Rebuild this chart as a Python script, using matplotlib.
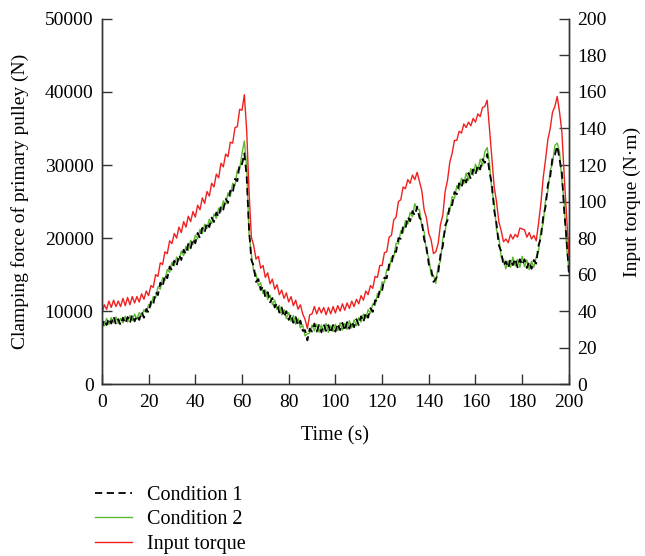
import matplotlib
matplotlib.use("Agg")
import matplotlib.pyplot as plt
import numpy as np

plt.rcParams['font.family'] = ['Liberation Serif', 'DejaVu Serif']
plt.rcParams['font.size'] = 14

# time (s), one sample per second
time = np.arange(0, 201)

# clamping force of primary pulley (N), condition 1
cond1 = [7700, 8800, 8100, 9000, 8300, 9300, 8200, 8900, 8100, 9100,
         8300, 9200, 8400, 9500, 8600, 9400, 8800, 9900, 9100, 10300,
         9800, 11300, 10900, 12600, 12200, 13900, 13300, 15000, 14500, 16100,
         15600, 16900, 16200, 17700, 17000, 18400, 17800, 19200, 18600, 19900,
         19300, 20700, 20000, 21400, 20800, 22100, 21500, 22800, 22200, 23500,
         22900, 24400, 23900, 25400, 24800, 26500, 26100, 28100, 27800, 30200,
         30100, 31600, 28400, 21300, 17000, 16200, 14000, 14400, 12900, 13400,
         11900, 12600, 11200, 11800, 10500, 11100, 9800, 10500, 9200, 10000,
         8800, 9600, 8400, 9200, 8000, 8700, 7300, 7400, 6000, 7600,
         7200, 8300, 7200, 8100, 7100, 8200, 7300, 8100, 7000, 8100,
         7200, 8300, 7400, 8400, 7300, 8500, 7600, 8600, 7800, 8900,
         8100, 9300, 8500, 9800, 9100, 10400, 9900, 11500, 11300, 13000,
         12800, 14600, 14500, 16400, 16300, 18200, 18100, 20000, 19900, 21600,
         21300, 22900, 22300, 23700, 23100, 24300, 22800, 22400, 19800, 18800,
         16400, 15800, 14000, 14400, 15100, 17700, 18900, 21700, 22400, 24600,
         24500, 26300, 26000, 27500, 26900, 28300, 27600, 28900, 28100, 29400,
         28700, 30000, 29400, 30800, 30300, 31500, 29000, 27400, 23800, 22000,
         19000, 18200, 16200, 16800, 15900, 17100, 16300, 17200, 16000, 17100,
         16300, 17100, 15900, 16800, 15800, 17000, 16500, 19000, 20000, 22900,
         24300, 27300, 28400, 31100, 31400, 32600, 30800, 28900, 23600, 19900,
         15200]

# clamping force of primary pulley (N), condition 2
cond2 = [8300, 8000, 9000, 8200, 9100, 8400, 9200, 8300, 9000, 8400,
         9300, 8500, 9400, 8700, 9600, 8900, 9800, 9300, 10200, 9800,
         10900, 10700, 12000, 11800, 13300, 13000, 14600, 14200, 15700, 15300,
         16700, 16200, 17400, 16900, 18200, 17600, 18900, 18300, 19700, 19100,
         20400, 19900, 21200, 20600, 21900, 21300, 22600, 22000, 23300, 22700,
         24100, 23600, 25100, 24600, 26200, 25700, 27500, 27200, 29300, 29400,
         31600, 33300, 29800, 20600, 17800, 15400, 15100, 13500, 13900, 12400,
         12900, 11600, 12200, 10900, 11500, 10200, 10800, 9500, 10200, 9000,
         9800, 8600, 9400, 8200, 9000, 7700, 8100, 6600, 6900, 7000,
         8100, 7300, 8200, 7100, 8100, 7200, 8300, 7100, 8000, 7200,
         8200, 7300, 8400, 7400, 8300, 7500, 8700, 7700, 8800, 8000,
         9100, 8500, 9600, 9000, 10200, 9700, 11000, 10800, 12400, 12300,
         14000, 13900, 15700, 15600, 17400, 17400, 19300, 19200, 21000, 20700,
         22400, 21900, 23500, 22900, 24700, 23900, 23900, 21600, 20900, 18100,
         17300, 15000, 14900, 13800, 16200, 16800, 20000, 20800, 23500, 23700,
         25700, 25400, 27200, 26600, 28200, 27400, 28900, 27900, 29500, 28600,
         30100, 29200, 30800, 29900, 31800, 32400, 30200, 26500, 24900, 21100,
         20100, 17400, 17100, 15800, 16900, 16000, 17400, 16200, 17100, 16000,
         17500, 16100, 17000, 15700, 16800, 16000, 17400, 18200, 21000, 22000,
         25200, 26400, 29300, 30200, 32700, 33000, 31800, 27900, 24800, 18800,
         15800]

# input torque (N*m)
torque = [38.5, 43.5, 41, 45.5, 42, 46, 42.5, 45.5, 42.5, 47,
          43, 47.5, 43.5, 48, 44.5, 48, 45, 49.5, 46.5, 51,
          48.5, 54, 53, 60, 59, 66.5, 65.5, 72.5, 71.5, 78.5,
          77, 82.5, 80, 86, 83, 89, 86, 92, 89, 94.5,
          91.5, 98, 95.5, 102, 99, 105.5, 103, 110, 108, 115,
          113, 121, 119, 126, 124.5, 132.5, 132, 140.5, 141, 150.5,
          150, 158.5, 139, 106, 80.5, 76, 68.5, 70, 63.5, 65,
          58.5, 61, 55, 57.5, 52, 54.5, 49, 51.5, 47, 50,
          45, 48, 43, 46, 41, 43.5, 38.5, 35.5, 30.5, 38,
          38.5, 42.5, 38.5, 42, 39, 42, 38, 42, 38.5, 42.5,
          39, 43, 40, 44, 40.5, 44.5, 41.5, 45.5, 42.5, 46.5,
          44, 48.5, 46, 51, 49, 54, 52.5, 59, 58.5, 65,
          65, 72, 72.5, 80.5, 81.5, 90, 91.5, 100, 101, 108,
          107, 112, 110, 114.5, 112, 116, 111, 106, 95.5, 91,
          82.5, 79, 71.5, 72.5, 77, 87.5, 92.5, 105.5, 111.5, 121.5,
          126.5, 133.5, 133.5, 138.5, 137.5, 142.5, 140.5, 143.5, 141.5, 145.5,
          143.5, 148, 146.5, 151.5, 152, 155.5, 140, 124, 108, 100,
          89, 84, 78, 79.5, 77.5, 82, 79.5, 82, 80.5, 85.5,
          85, 84.5, 80.5, 83, 79.5, 81.5, 78.5, 88, 99, 113,
          123, 134, 140, 149, 152, 157.5, 149, 138, 114, 93,
          71]

fig = plt.figure(figsize=(6.45, 5.56), dpi=100)
ax = fig.add_axes([0.158, 0.309, 0.724, 0.657])
ax2 = ax.twinx()

l2, = ax.plot(time, cond2, color='#5cb82e', lw=1.0, label='Condition 2')
l1, = ax.plot(time, cond1, color='black', lw=1.3, ls=(0, (4, 2.5)), label='Condition 1')
l3, = ax2.plot(time, torque, color='#f02020', lw=1.0, label='Input torque')

ax.set_xlim(0, 200)
ax.set_ylim(0, 50000)
ax2.set_ylim(0, 200)
ax.set_xticks(np.arange(0, 201, 20))
ax.set_yticks(np.arange(0, 50001, 10000))
ax2.set_yticks(np.arange(0, 201, 20))

ax.set_xlabel('Time (s)', fontsize=14.5, labelpad=11)
ax.set_ylabel('Clamping force of primary pulley (N)', fontsize=14, labelpad=11)
ax2.set_ylabel('Input torque (N·m)', fontsize=14, labelpad=12)

for a in (ax, ax2):
    a.spines['top'].set_visible(False)
    for s in a.spines.values():
        s.set_color('#333333')
        s.set_linewidth(1.0)
    a.tick_params(direction='in', length=7, width=1.0, color='#333333',
                  labelcolor='black', labelsize=14, pad=6)
ax.tick_params(axis='x', pad=7)

fig.legend([l1, l2, l3], ['Condition 1', 'Condition 2', 'Input torque'],
           loc='upper left', bbox_to_anchor=(0.148, 0.126), frameon=False,
           fontsize=14.5, borderpad=0, borderaxespad=0, handlelength=1.8,
           handletextpad=0.75, labelspacing=0.26)

fig.savefig('out.png', dpi=100)
